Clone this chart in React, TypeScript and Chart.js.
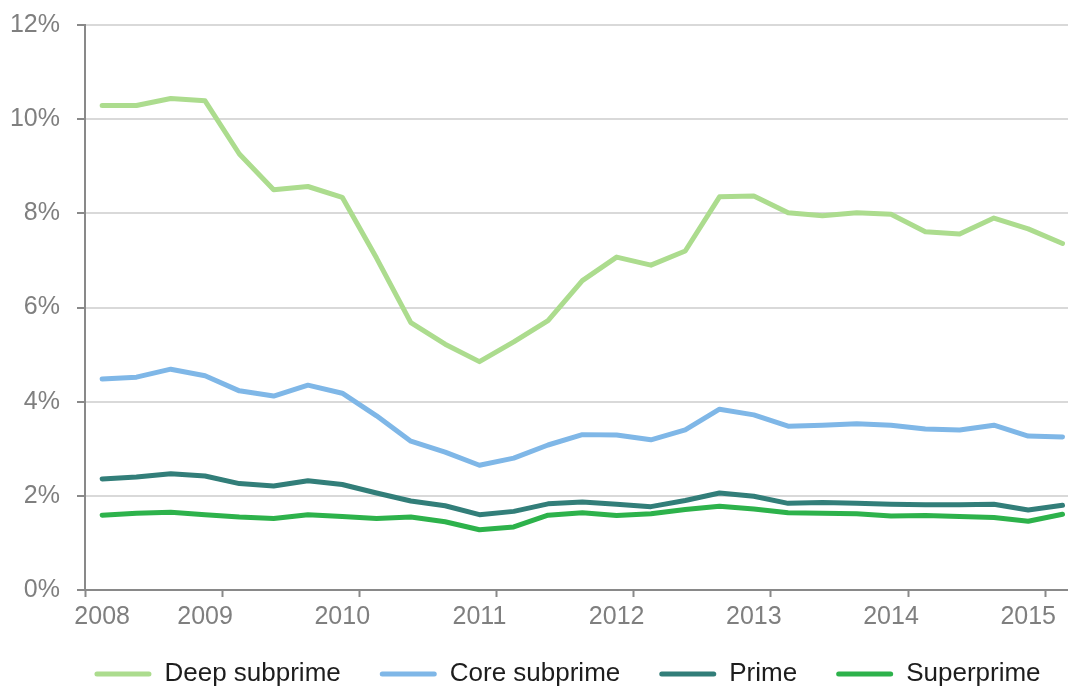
import React, { useEffect, useRef } from "react";
import { Chart, registerables } from "chart.js";

Chart.register(...registerables);

// Quarterly observations, 2008 onward (29 quarters)
const quarterIndex: number[] = Array.from({ length: 29 }, (_, i) => i);

const deepSubprime: number[] = [
  10.29, 10.29, 10.44, 10.39, 9.26, 8.5, 8.57, 8.34, 7.05, 5.68, 5.22, 4.85, 5.27, 5.72, 6.57,
  7.07, 6.9, 7.2, 8.35, 8.37, 8.01, 7.95, 8.01, 7.98, 7.61, 7.56, 7.9, 7.67, 7.36,
];
const coreSubprime: number[] = [
  4.48, 4.52, 4.69, 4.55, 4.23, 4.12, 4.35, 4.18, 3.7, 3.16, 2.93, 2.65, 2.8, 3.08, 3.3,
  3.29, 3.19, 3.4, 3.84, 3.72, 3.48, 3.5, 3.53, 3.5, 3.42, 3.4, 3.5, 3.27, 3.25,
];
const prime: number[] = [
  2.36, 2.4, 2.47, 2.42, 2.26, 2.21, 2.32, 2.24, 2.06, 1.89, 1.79, 1.6, 1.67, 1.83, 1.87,
  1.82, 1.77, 1.9, 2.06, 1.99, 1.84, 1.86, 1.84, 1.82, 1.81, 1.81, 1.82, 1.7, 1.8,
];
const superprime: number[] = [
  1.59, 1.63, 1.65, 1.6, 1.55, 1.52, 1.6, 1.56, 1.52, 1.55, 1.45, 1.28, 1.34, 1.59, 1.64,
  1.58, 1.62, 1.71, 1.78, 1.72, 1.64, 1.63, 1.62, 1.57, 1.58, 1.56, 1.54, 1.46, 1.61,
];

const seriesNames: string[] = ["Deep subprime", "Core subprime", "Prime", "Superprime"];
const seriesColors: string[] = ["#acdc8e", "#7fb7e7", "#327e79", "#2db24b"];

// Year tick labels and the quarter at which each is printed
const yearLabels: string[] = ["2008", "2009", "2010", "2011", "2012", "2013", "2014", "2015"];
const yearLabelQuarter: number[] = [0, 3, 7, 11, 15, 19, 23, 27];
// Year boundary tick marks (between quarters)
const yearBoundaryQuarter: number[] = [-0.5, 3.5, 7.5, 11.5, 15.5, 19.5, 23.5, 27.5];

const yTicks: number[] = [0, 2, 4, 6, 8, 10, 12];

const FONT = "'Liberation Sans', Arial, Helvetica, sans-serif";
const AXIS_GRAY = "#898989";
const TEXT_GRAY = "#7f7f7f";
const LEGEND_TOP = 622;

const legendPlacement = {
  id: "legendPlacement",
  beforeDraw(chart: any) {
    const lg = chart.legend;
    if (!lg) return;
    lg.top = LEGEND_TOP;
    lg.bottom = chart.height;
    lg.height = lg.bottom - lg.top;
  },
};

export default function App() {
  const canvasRef = useRef<HTMLCanvasElement | null>(null);

  useEffect(() => {
    if (!canvasRef.current) return;
    const allSeries = [deepSubprime, coreSubprime, prime, superprime];
    const datasets = allSeries.map((vals, si) => ({
      label: seriesNames[si],
      data: vals.map((v, i) => ({ x: quarterIndex[i], y: v })),
      borderColor: seriesColors[si],
      backgroundColor: seriesColors[si],
      borderWidth: 5,
      borderCapStyle: "round" as const,
      borderJoinStyle: "round" as const,
      pointRadius: 0,
      pointHoverRadius: 0,
      tension: 0,
      fill: false,
    }));

    const tickValues = [...yearBoundaryQuarter, ...yearLabelQuarter].sort((a, b) => a - b);

    const chart = new Chart(canvasRef.current, {
      type: "line",
      data: { datasets },
      plugins: [legendPlacement],
      options: {
        animation: false,
        responsive: true,
        maintainAspectRatio: false,
        layout: { padding: { top: 25, left: 0, right: -67, bottom: 0 } },
        plugins: {
          tooltip: { enabled: false },
          legend: {
            position: "bottom",
            maxHeight: 46,
            labels: {
              font: { family: FONT, size: 26 },
              color: "#1d1d1d",
              boxWidth: 57,
              boxHeight: 5,
              padding: 39,
              useBorderRadius: true,
              borderRadius: 2.5,
              generateLabels: (c: any) =>
                c.data.datasets.map((ds: any, i: number) => ({
                  text: ds.label,
                  fillStyle: ds.borderColor,
                  strokeStyle: ds.borderColor,
                  lineWidth: 0,
                  hidden: false,
                  datasetIndex: i,
                  borderRadius: 2.5,
                  fontColor: "#1d1d1d",
                })),
            },
          },
        },
        scales: {
          x: {
            type: "linear",
            min: -0.5,
            max: 28.16,
            afterBuildTicks: (scale: any) => {
              scale.ticks = tickValues.map((v) => ({ value: v }));
            },
            afterFit: (scale: any) => {
              scale.height = 50;
              scale.paddingLeft = 0;
              scale.paddingRight = 0;
            },
            ticks: {
              autoSkip: false,
              maxRotation: 0,
              minRotation: 0,
              padding: 5,
              color: TEXT_GRAY,
              font: { family: FONT, size: 25 },
              callback: (value: any) => {
                const idx = yearLabelQuarter.indexOf(Number(value));
                return idx >= 0 ? yearLabels[idx] : "";
              },
            },
            grid: {
              drawOnChartArea: false,
              drawTicks: true,
              tickLength: 7,
              tickWidth: 2,
              tickColor: (ctx: any) =>
                ctx.tick && yearBoundaryQuarter.includes(ctx.tick.value) ? AXIS_GRAY : "rgba(0,0,0,0)",
            },
            border: { display: true, color: AXIS_GRAY, width: 2 },
          },
          y: {
            type: "linear",
            min: 0,
            max: 12,
            afterBuildTicks: (scale: any) => {
              scale.ticks = yTicks.map((v) => ({ value: v }));
            },
            afterFit: (scale: any) => {
              scale.width = 85;
              scale.paddingTop = 0;
              scale.paddingBottom = 0;
            },
            ticks: {
              padding: 17,
              color: TEXT_GRAY,
              font: { family: FONT, size: 25 },
              callback: (value: any) => `${value}%`,
            },
            grid: {
              color: "#d9d9d9",
              lineWidth: 2,
              drawTicks: true,
              tickLength: 8,
              tickColor: AXIS_GRAY,
              tickWidth: 2,
            },
            border: { display: true, color: AXIS_GRAY, width: 2 },
          },
        },
      },
    });
    return () => chart.destroy();
  }, []);

  return (
    <div style={{ position: "absolute", left: 0, top: 0, width: 1068, height: 686, background: "#fff" }}>
      <canvas ref={canvasRef} />
    </div>
  );
}
